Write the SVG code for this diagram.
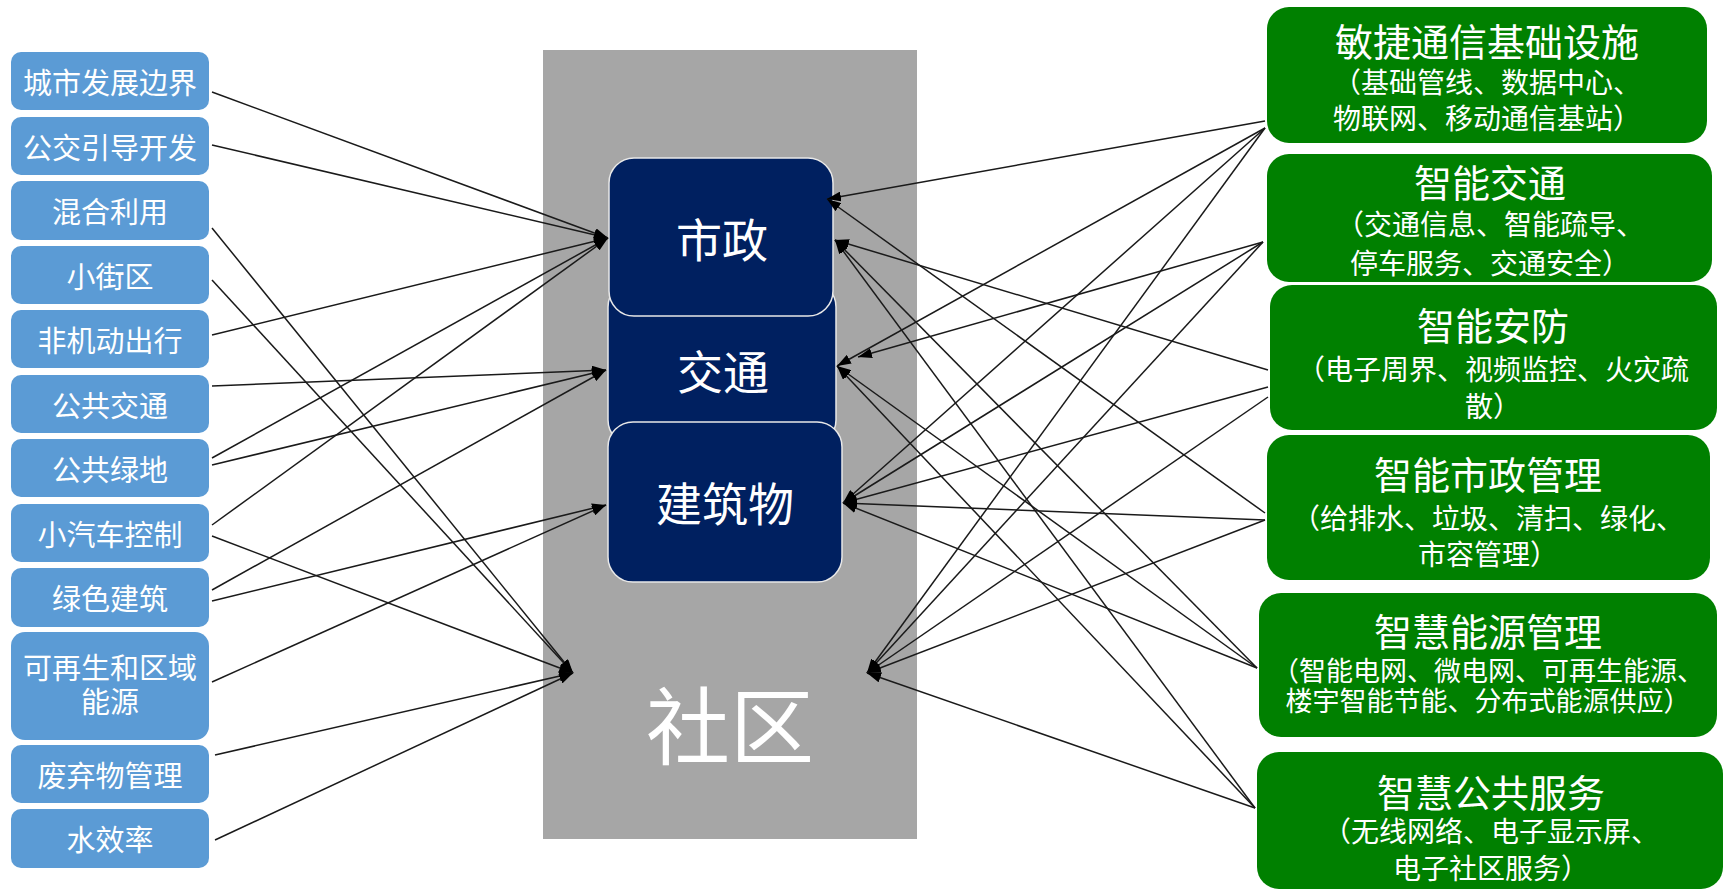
<svg xmlns="http://www.w3.org/2000/svg" width="1726" height="893" viewBox="0 0 1726 893">
<defs>
<style>
.lb{fill:#5B9BD5;}
.lt{fill:#fff;font-family:"Noto Sans CJK SC","Noto Sans",sans-serif;font-size:29px;text-anchor:middle;dominant-baseline:central;}
.cn{fill:#002060;stroke:#E8E8E8;stroke-width:1.5;}
.ct{fill:#fff;font-family:"Noto Sans CJK SC","Noto Sans",sans-serif;font-size:46px;text-anchor:middle;dominant-baseline:central;}
.rb{fill:#008000;}
.rt{fill:#fff;font-family:"Noto Sans CJK SC","Noto Sans",sans-serif;font-size:38px;text-anchor:middle;dominant-baseline:central;}
.rs{fill:#fff;font-family:"Noto Sans CJK SC","Noto Sans",sans-serif;font-size:28px;text-anchor:middle;dominant-baseline:central;}
.ln{stroke:#1a1a1a;stroke-width:1.5;fill:none;marker-end:url(#ah);}
</style>
<marker id="ah" viewBox="0 0 14 10" refX="14" refY="5" markerWidth="14" markerHeight="10" markerUnits="userSpaceOnUse" orient="auto">
<path d="M0,0 L14,5 L0,10 Z" fill="#000"/>
</marker>
</defs>
<rect width="1726" height="893" fill="#fff"/>

<g id="community">
<rect x="543" y="50" width="374" height="789" fill="#A6A6A6"/>
<text x="730" y="721" style="fill:#fff;font-family:'Noto Sans CJK SC','Noto Sans',sans-serif;font-size:84px;text-anchor:middle;dominant-baseline:central;">社区</text>
</g>

<g id="node-traffic">
<rect class="cn" x="608" y="282" width="228" height="163" rx="25"/>
<text class="ct" x="723" y="369">交通</text>
</g>
<g id="node-municipal">
<rect class="cn" x="609" y="158" width="224" height="158" rx="25"/>
<text class="ct" x="722" y="237">市政</text>
</g>
<g id="node-building">
<rect class="cn" x="608" y="422" width="234" height="160" rx="25"/>
<text class="ct" x="725" y="501">建筑物</text>
</g>

<g id="left-nodes">
<g id="l1"><rect class="lb" x="11" y="52" width="198" height="58" rx="10"/><text class="lt" x="110" y="81">城市发展边界</text></g>
<g id="l2"><rect class="lb" x="11" y="117" width="198" height="58" rx="10"/><text class="lt" x="110" y="146">公交引导开发</text></g>
<g id="l3"><rect class="lb" x="11" y="181" width="198" height="59" rx="10"/><text class="lt" x="110" y="210">混合利用</text></g>
<g id="l4"><rect class="lb" x="11" y="246" width="198" height="58" rx="10"/><text class="lt" x="110" y="275">小街区</text></g>
<g id="l5"><rect class="lb" x="11" y="310" width="198" height="58" rx="10"/><text class="lt" x="110" y="339">非机动出行</text></g>
<g id="l6"><rect class="lb" x="11" y="375" width="198" height="58" rx="10"/><text class="lt" x="110" y="404">公共交通</text></g>
<g id="l7"><rect class="lb" x="11" y="439" width="198" height="58" rx="10"/><text class="lt" x="110" y="468">公共绿地</text></g>
<g id="l8"><rect class="lb" x="11" y="504" width="198" height="58" rx="10"/><text class="lt" x="110" y="533">小汽车控制</text></g>
<g id="l9"><rect class="lb" x="11" y="568" width="198" height="59" rx="10"/><text class="lt" x="110" y="597">绿色建筑</text></g>
<g id="l10"><rect class="lb" x="11" y="632" width="198" height="108" rx="14"/><text class="lt" x="110" y="666">可再生和区域</text><text class="lt" x="110" y="700">能源</text></g>
<g id="l11"><rect class="lb" x="11" y="745" width="198" height="58" rx="10"/><text class="lt" x="110" y="774">废弃物管理</text></g>
<g id="l12"><rect class="lb" x="11" y="809" width="198" height="59" rx="10"/><text class="lt" x="110" y="838">水效率</text></g>
</g>

<g id="right-nodes">
<g id="rA"><rect class="rb" x="1267" y="7" width="440" height="136" rx="22"/>
<text class="rt" x="1487" y="39">敏捷通信基础设施</text>
<text class="rs" x="1487" y="81">（基础管线、数据中心、</text>
<text class="rs" x="1487" y="117">物联网、移动通信基站）</text></g>
<g id="rB"><rect class="rb" x="1267" y="154" width="445" height="128" rx="22"/>
<text class="rt" x="1490" y="180">智能交通</text>
<text class="rs" x="1490" y="223">（交通信息、智能疏导、</text>
<text class="rs" x="1490" y="262">停车服务、交通安全）</text></g>
<g id="rC"><rect class="rb" x="1270" y="285" width="447" height="145" rx="22"/>
<text class="rt" x="1493" y="323">智能安防</text>
<text class="rs" x="1493" y="368">（电子周界、视频监控、火灾疏</text>
<text class="rs" x="1493" y="405">散）</text></g>
<g id="rD"><rect class="rb" x="1267" y="435" width="443" height="145" rx="22"/>
<text class="rt" x="1488" y="472">智能市政管理</text>
<text class="rs" x="1488" y="517">（给排水、垃圾、清扫、绿化、</text>
<text class="rs" x="1488" y="553">市容管理）</text></g>
<g id="rE"><rect class="rb" x="1259" y="593" width="458" height="144" rx="22"/>
<text class="rt" x="1488" y="629">智慧能源管理</text>
<text class="rs" x="1488" y="669" style="font-size:27px">（智能电网、微电网、可再生能源、</text>
<text class="rs" x="1488" y="699" style="font-size:27px">楼宇智能节能、分布式能源供应）</text></g>
<g id="rF"><rect class="rb" x="1257" y="752" width="466" height="137" rx="22"/>
<text class="rt" x="1491" y="790">智慧公共服务</text>
<text class="rs" x="1491" y="830">（无线网络、电子显示屏、</text>
<text class="rs" x="1491" y="867">电子社区服务）</text></g>
</g>

<g id="connectors">
<line class="ln" x1="212" y1="92" x2="608" y2="238"/>
<line class="ln" x1="212" y1="145" x2="608" y2="238"/>
<line class="ln" x1="212" y1="335" x2="608" y2="238"/>
<line class="ln" x1="212" y1="458" x2="608" y2="238"/>
<line class="ln" x1="212" y1="525" x2="608" y2="238"/>
<line class="ln" x1="212" y1="386" x2="606" y2="370"/>
<line class="ln" x1="212" y1="465" x2="606" y2="370"/>
<line class="ln" x1="212" y1="590" x2="606" y2="370"/>
<line class="ln" x1="212" y1="601" x2="606" y2="505"/>
<line class="ln" x1="212" y1="682" x2="606" y2="505"/>
<line class="ln" x1="212" y1="228" x2="573" y2="673"/>
<line class="ln" x1="212" y1="280" x2="573" y2="673"/>
<line class="ln" x1="212" y1="536" x2="573" y2="673"/>
<line class="ln" x1="215" y1="755" x2="573" y2="673"/>
<line class="ln" x1="215" y1="840" x2="573" y2="673"/>

<line class="ln" x1="1265" y1="121" x2="827" y2="199"/>
<line class="ln" x1="1265" y1="128" x2="837" y2="366"/>
<line class="ln" x1="1265" y1="128" x2="843" y2="503"/>
<line class="ln" x1="1265" y1="128" x2="867" y2="673"/>
<line class="ln" x1="1263" y1="242" x2="858" y2="357"/>
<line class="ln" x1="1263" y1="242" x2="843" y2="503"/>
<line class="ln" x1="1263" y1="242" x2="867" y2="673"/>
<line class="ln" x1="1268" y1="370" x2="835" y2="240"/>
<line class="ln" x1="1268" y1="387" x2="843" y2="503"/>
<line class="ln" x1="1268" y1="397" x2="867" y2="673"/>
<line class="ln" x1="1265" y1="513" x2="827" y2="199"/>
<line class="ln" x1="1265" y1="520" x2="843" y2="503"/>
<line class="ln" x1="1265" y1="520" x2="867" y2="673"/>
<line class="ln" x1="1257" y1="668" x2="835" y2="240"/>
<line class="ln" x1="1257" y1="668" x2="837" y2="366"/>
<line class="ln" x1="1257" y1="668" x2="843" y2="503"/>
<line class="ln" x1="1255" y1="808" x2="835" y2="240"/>
<line class="ln" x1="1255" y1="808" x2="837" y2="366"/>
<line class="ln" x1="1255" y1="808" x2="867" y2="673"/>
</g>
</svg>
